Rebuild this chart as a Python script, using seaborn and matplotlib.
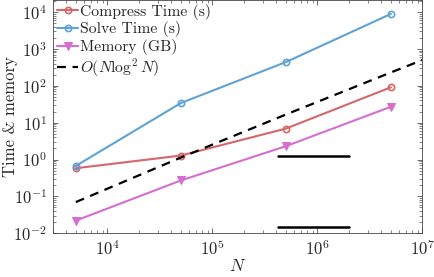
import numpy as np
import pandas as pd
import matplotlib
matplotlib.use("Agg")
import matplotlib.pyplot as plt
import matplotlib.ticker as mticker
import seaborn as sns

N = [5e3, 5e4, 5e5, 5e6]
compress_time = [0.58, 1.28, 6.9, 91]
solve_time = [0.67, 34, 440, 8900]
memory_gb = [0.022, 0.27, 2.3, 27]
ref_N = [5e3, 5e4, 5e5, 5e6, 1e7]
ref_vals = [0.07, 1.13, 16.6, 230, 500]
seg_N = [4.2e5, 2.0e6]
seg_upper = [1.25, 1.25]
seg_lower = [0.015, 0.015]
x_ticks = [1e4, 1e5, 1e6, 1e7]
y_ticks = [1e-2, 1e-1, 1e0, 1e1, 1e2, 1e3, 1e4]

sns.set_style("ticks")
plt.rcParams["font.family"] = ["cmr10"]
plt.rcParams["mathtext.fontset"] = "cm"
plt.rcParams["axes.formatter.use_mathtext"] = True
plt.rcParams["axes.unicode_minus"] = False

c_red = "#D5676A"
c_blue = "#5FA2D5"
c_mag = "#D66ECF"

fig = plt.figure(figsize=(4.34, 2.77), dpi=100)
ax = fig.add_axes([0.121, 0.158, 0.8525, 0.8405])

df = pd.DataFrame({"N": N, "c": compress_time, "s": solve_time, "m": memory_gb})
dref = pd.DataFrame({"N": ref_N, "r": ref_vals})

sns.lineplot(data=df, x="N", y="c", ax=ax, color=c_red, lw=1.5, marker="o",
             markersize=4.5, markerfacecolor="none", markeredgecolor=c_red,
             markeredgewidth=1.2, label="Compress Time (s)")
sns.lineplot(data=df, x="N", y="s", ax=ax, color=c_blue, lw=1.5, marker="o",
             markersize=4.5, markerfacecolor="none", markeredgecolor=c_blue,
             markeredgewidth=1.2, label="Solve Time (s)")
sns.lineplot(data=df, x="N", y="m", ax=ax, color=c_mag, lw=1.5, marker="v",
             markersize=5.5, markerfacecolor=c_mag, markeredgecolor=c_mag,
             label="Memory (GB)")
sns.lineplot(data=dref, x="N", y="r", ax=ax, color="black", lw=1.6,
             linestyle=(0, (4, 3)), label=r"$O(N\log^2 N)$")
ax.plot(seg_N, seg_upper, color="black", lw=1.8)
ax.plot(seg_N, seg_lower, color="black", lw=1.8)

ax.set_xscale("log")
ax.set_yscale("log")
ax.set_xlim(3e3, 1e7)
ax.set_ylim(1e-2, 2.07e4)
ax.set_xticks(x_ticks)
ax.set_yticks(y_ticks)
ax.xaxis.set_minor_formatter(mticker.NullFormatter())
ax.yaxis.set_minor_formatter(mticker.NullFormatter())
ax.tick_params(which="both", direction="in", top=True, right=True,
               labelsize=12, color="#555555", pad=4)
ax.tick_params(which="major", length=3.5, width=0.6)
ax.tick_params(which="minor", length=2, width=0.5)
for sp in ax.spines.values():
    sp.set_linewidth(0.6)
    sp.set_color("#444444")
ax.set_xlabel(r"$N$", fontsize=12.5, labelpad=0)
ax.set_ylabel("Time & memory", fontsize=12)
ax.yaxis.set_label_coords(-0.092, 0.5)

leg = ax.legend(loc="upper left", bbox_to_anchor=(0.012, 0.985), frameon=False,
                fontsize=11.3, handlelength=1.35, handletextpad=0.1,
                labelspacing=0.1, borderaxespad=0, borderpad=0)

fig.savefig("out.png", dpi=100)
